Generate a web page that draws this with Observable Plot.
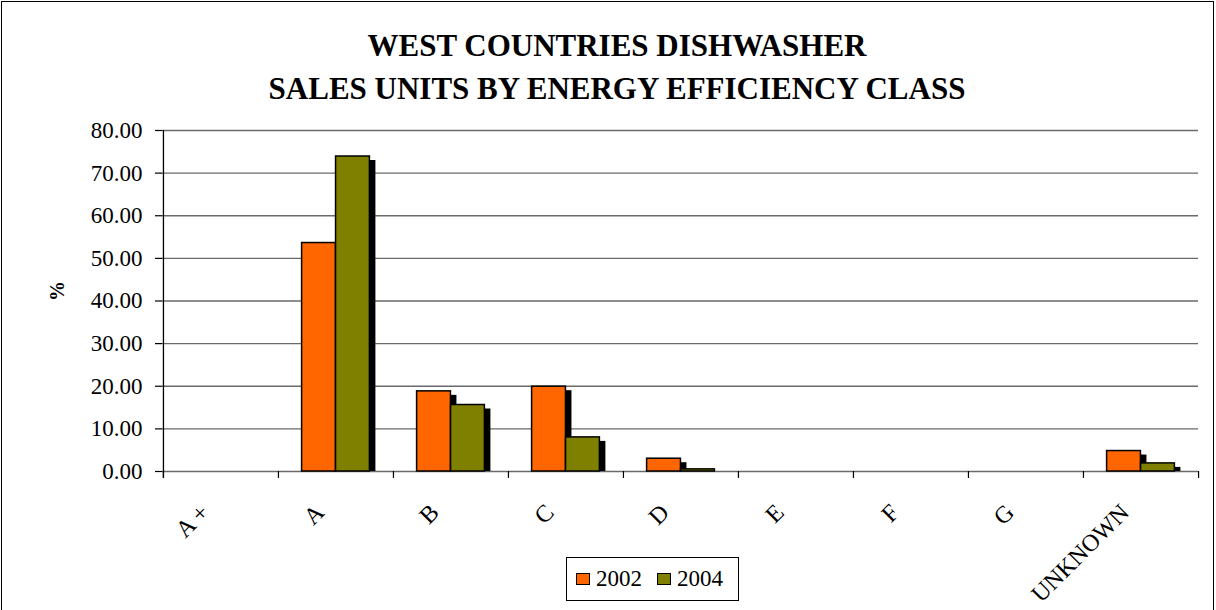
<!DOCTYPE html>
<html>
<head>
<meta charset="utf-8">
<script src="https://cdn.jsdelivr.net/npm/d3@7"></script>
<script src="https://cdn.jsdelivr.net/npm/@observablehq/plot@0.6"></script>
<style>
  html, body { margin: 0; padding: 0; background: #fff; }
  #chart { position: relative; width: 1216px; height: 610px; overflow: hidden;
           font-family: "Liberation Serif", "Times New Roman", serif; color: #000; }
  #border { position: absolute; left: 1px; top: 1px; width: 1211px; height: 700px;
            border: 1.5px solid #000; pointer-events: none; }
  .title { position: absolute; left: 9px; width: 1216px; text-align: center;
           font-weight: bold; font-size: 31px; line-height: 31px; white-space: nowrap; }
  #plot { position: absolute; left: 0; top: 115px; }
  #legend { position: absolute; left: 566px; top: 557px; width: 173px; height: 44px;
            box-sizing: border-box; border: 1px solid #000; background: #fff;
            display: flex; align-items: center; padding-left: 9px; font-size: 23px; }
  .swatch { width: 15px; height: 12px; box-sizing: border-box; border: 1.2px solid #000; }
  .lbl { margin-left: 6px; margin-right: 15px; }
</style>
</head>
<body>
<div id="chart">
  <div class="title" style="top:30px">WEST COUNTRIES DISHWASHER</div>
  <div class="title" style="top:73px">SALES UNITS BY ENERGY EFFICIENCY CLASS</div>
  <div id="plot"></div>
  <div id="legend"></div>
  <div id="border"></div>
</div>
<script>
// Energy efficiency classes and the share of units sold (%) in each year
const categories = ["A +", "A", "B", "C", "D", "E", "F", "G", "UNKNOWN"];
const years = ["2002", "2004"];
const sales2002 = [0, 53.6, 18.8, 19.9, 3.0, 0, 0, 0, 4.8];
const sales2004 = [0, 73.9, 15.6, 8.0, 0.5, 0, 0, 0, 1.9];
const yTicks = [0, 10, 20, 30, 40, 50, 60, 70, 80];
const colors = ["#FF6600", "#808000"];

const W = 1216, H = 495;
const ML = 162, MR = 18, MT = 15, MB = 139;
const bw = (W - ML - MR) / categories.length;   // width of one class band
const barW = bw * 0.295;                        // width of one year's bar
const outer = bw / 2 - barW;                    // empty space either side of a pair
const plotH = H - MT - MB;

const rows = (vals) => categories.map((c, i) => ({category: c, value: vals[i]})).filter(d => d.value > 0);
const r2002 = rows(sales2002);
const r2004 = rows(sales2004);

const font = "Liberation Serif, Times New Roman, serif";

function series(data, color, left) {
  const insets = left ? {insetLeft: outer, insetRight: bw / 2} : {insetLeft: bw / 2, insetRight: outer};
  return [
    // drop shadow behind each bar
    Plot.barY(data, {x: "category", y: "value", fill: "#000", ...insets, insetBottom: 4, dx: 6, dy: 4}),
    Plot.barY(data, {x: "category", y: "value", fill: color, stroke: "#000", strokeWidth: 1.5, ...insets})
  ];
}

const chart = Plot.plot({
  width: W, height: H,
  marginLeft: ML, marginRight: MR, marginTop: MT, marginBottom: MB,
  style: {fontFamily: font, background: "transparent", color: "#000"},
  x: {type: "band", domain: categories, padding: 0, axis: null},
  y: {domain: [0, 80], axis: null},
  marks: [
    Plot.ruleY(yTicks, {stroke: "#6a6a6a", strokeWidth: 1.3}),
    ...series(r2002, colors[0], true),
    ...series(r2004, colors[1], false),
    // value axis line and ticks
    Plot.ruleX([categories[0]], {dx: -bw / 2, insetBottom: -7, stroke: "#000", strokeWidth: 1.3}),
    Plot.axisY({ticks: yTicks, tickSize: 7, tickPadding: 13, tickFormat: d3.format(".2f"),
                fontSize: 23, label: null, stroke: "#000", strokeWidth: 1.2}),
    // class boundary ticks below the baseline
    Plot.ruleX(categories, {x: d => d, dx: -bw / 2, insetTop: plotH, insetBottom: -7, stroke: "#000", strokeWidth: 1.2}),
    Plot.ruleX([categories[categories.length - 1]], {x: d => d, dx: bw / 2, insetTop: plotH, insetBottom: -7, stroke: "#000", strokeWidth: 1.2}),
    // rotated class labels
    Plot.text(categories, {x: d => d, text: d => d, frameAnchor: "bottom", rotate: -45,
                           textAnchor: "end", lineAnchor: "middle", dx: -16, dy: 37, fontSize: 24, fill: "#000"}),
    Plot.text(["%"], {text: d => d, frameAnchor: "left", rotate: -90, dx: -105,
                      fontSize: 20, fontWeight: "bold", fill: "#000"})
  ]
});
document.getElementById("plot").appendChild(chart);

// legend
const legend = document.getElementById("legend");
years.forEach((y, i) => {
  const sw = document.createElement("span");
  sw.className = "swatch";
  sw.style.background = colors[i];
  const t = document.createElement("span");
  t.className = "lbl";
  t.textContent = y;
  legend.appendChild(sw);
  legend.appendChild(t);
});
</script>
</body>
</html>
